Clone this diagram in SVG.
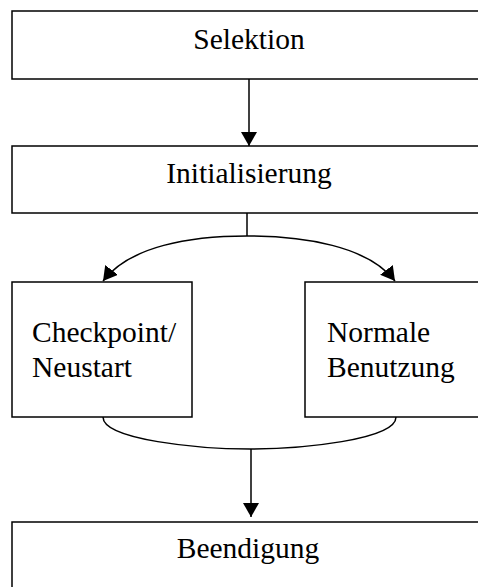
<svg xmlns="http://www.w3.org/2000/svg" width="478" height="587" viewBox="0 0 478 587">
<style>
.box{fill:#fff;stroke:#000;stroke-width:1.5}
.t{font-family:"Liberation Serif","Times New Roman",serif;font-size:29.5px;fill:#000}
.c{text-anchor:middle}
.ln{fill:none;stroke:#000;stroke-width:1.5}
</style>
<defs>
<marker id="ah2" viewBox="0 0 14 16" refX="14" refY="8" markerWidth="14" markerHeight="16" markerUnits="userSpaceOnUse" orient="auto">
<path d="M0,0 L14,8 L0,16 Z" fill="#000"/>
</marker>
</defs>
<g id="selektion">
<rect class="box" x="12" y="11" width="480" height="68"/>
<text class="t c" x="249" y="49">Selektion</text>
</g>
<g id="initialisierung">
<rect class="box" x="12" y="146" width="480" height="67"/>
<text class="t c" x="249" y="183">Initialisierung</text>
</g>
<g id="checkpoint">
<rect class="box" x="12" y="282" width="180" height="135"/>
<text class="t" x="32" y="342">Checkpoint/</text>
<text class="t" x="32" y="377">Neustart</text>
</g>
<g id="normale">
<rect class="box" x="305" y="282" width="190" height="135"/>
<text class="t" x="327" y="342">Normale</text>
<text class="t" x="327" y="377">Benutzung</text>
</g>
<g id="beendigung">
<rect class="box" x="12" y="522" width="480" height="80"/>
<text class="t c" x="248" y="558">Beendigung</text>
</g>
<g id="connectors">
<path class="ln" d="M249,79 L249,146" marker-end="url(#ah2)"/>
<path class="ln" d="M247,213 L247,236"/>
<path class="ln" d="M247,236 C190,236 130,246 103,281" marker-end="url(#ah2)"/>
<path class="ln" d="M247,236 C304,236 368,246 395,281" marker-end="url(#ah2)"/>
<path class="ln" d="M103,417 C103,440 200,449 250,449 C300,449 396,440 396,417"/>
<path class="ln" d="M251,449 L251,517" marker-end="url(#ah2)"/>
</g>
</svg>
